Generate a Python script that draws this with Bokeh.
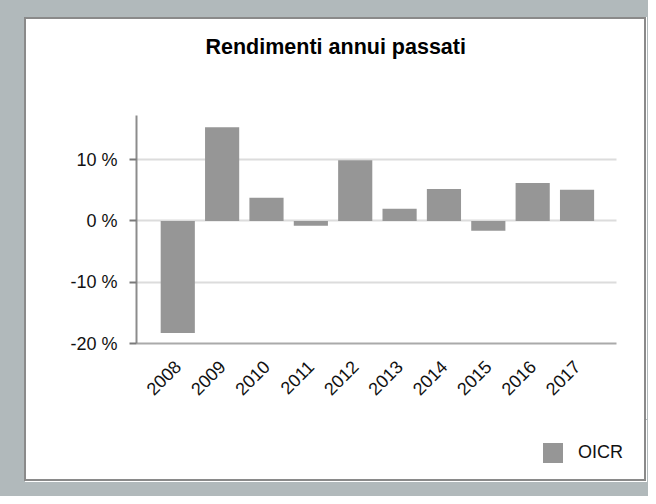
from math import pi
from bokeh.plotting import figure
from bokeh.models import (ColumnDataSource, Range1d, FixedTicker,
                          Legend, LegendItem)
from bokeh.layouts import column
from bokeh.embed import file_html
from bokeh.resources import INLINE

# ---- data ----
title_text = "Rendimenti annui passati"
series_name = "OICR"
years = ["2008", "2009", "2010", "2011", "2012", "2013", "2014", "2015", "2016", "2017"]
returns = [-18.3, 15.3, 3.8, -0.8, 9.9, 2.0, 5.2, -1.6, 6.2, 5.1]
y_ticks = [-20, -10, 0, 10]
y_tick_labels = ["-20 %", "-10 %", "0 %", "10 %"]

FONT = "Liberation Sans"
BAR = "#969696"
EDGE = "2px solid #8a8a8a"
MB_L, MB_R = 110, 16

pos = list(range(len(years)))
src = ColumnDataSource(dict(pos=pos, year=years, value=returns))


def panel_figure(height, edges, shadow, **kw):
    st = {"background-color": "white", "box-shadow": shadow}
    for e in edges:
        st["border-" + e] = EDGE
    f = figure(width=622, height=height, output_backend="svg", toolbar_location=None,
               min_border_left=MB_L, min_border_right=MB_R,
               background_fill_color="white", border_fill_color="white",
               styles=st, **kw)
    f.outline_line_color = None
    return f


# ---- title strip ----
t = panel_figure(52, ["left", "top", "right"], "1px 0 0 #ffffff",
                 x_range=Range1d(0, 1), y_range=Range1d(0, 1),
                 x_axis_type=None, y_axis_type=None,
                 min_border_top=44, min_border_bottom=0)
t.margin = (17, 0, 0, 24)
t.title.text = title_text
t.title.text_font = FONT
t.title.text_font_size = "21.5px"
t.title.text_font_style = "bold"
t.title.text_color = "#000000"
t.title.align = "left"
t.title.offset = 69

# ---- chart ----
p = panel_figure(350, ["left", "right"], "1px 0 0 #ffffff",
                 x_range=Range1d(-0.93, 10.25), y_range=Range1d(-20, 17.2),
                 min_border_top=46, min_border_bottom=76)
p.margin = (0, 0, 0, 24)

xa = p.below[0]
ya = p.left[0]

r = p.vbar(x="pos", top="value", bottom=0, width=0.77, source=src,
           fill_color=BAR, line_color=None)

ya.ticker = FixedTicker(ticks=y_ticks)
ya.major_label_overrides = dict(zip(y_ticks, y_tick_labels))
ya.axis_line_color = "#8c8c8c"
ya.axis_line_width = 2
ya.major_tick_line_color = "#7a7a7a"
ya.major_tick_line_width = 2
ya.major_tick_in = 0
ya.major_tick_out = 7
ya.minor_tick_line_color = None
ya.major_label_standoff = 12
ya.major_label_text_font = FONT
ya.major_label_text_font_size = "18px"
ya.major_label_text_color = "#111111"

xa.ticker = FixedTicker(ticks=pos)
xa.major_label_overrides = dict(zip(pos, years))
xa.bounds = (-0.93, 9.89)
xa.axis_line_color = "#aaaaaa"
xa.axis_line_width = 2
xa.major_tick_line_color = None
xa.minor_tick_line_color = None
xa.major_tick_in = 0
xa.major_tick_out = 0
xa.major_label_orientation = pi / 4
xa.major_label_standoff = 20
xa.major_label_text_font = FONT
xa.major_label_text_font_size = "18px"
xa.major_label_text_color = "#111111"

p.xgrid.grid_line_color = None
yg = p.ygrid[0]
yg.ticker = FixedTicker(ticks=y_ticks)
yg.grid_line_color = "#dcdcdc"
yg.grid_line_width = 2
if "cross_bounds" in yg.properties():
    yg.cross_bounds = (-0.93, 9.89)

# ---- legend strip ----
q = panel_figure(62, ["left", "bottom", "right"], "1px 1px 0 #ffffff",
                 x_range=Range1d(-100, -99), y_range=Range1d(100, 101),
                 x_axis_type=None, y_axis_type=None,
                 min_border_top=0, min_border_bottom=0)
q.margin = (0, 0, 0, 24)
swatch = q.vbar(x="pos", top="value", bottom=0, width=0.77, source=src,
                fill_color=BAR, line_color=None)
legend = Legend(items=[LegendItem(label=series_name, renderers=[swatch])],
                location=(404, 16), orientation="vertical",
                glyph_width=25, glyph_height=25, label_standoff=13,
                padding=0, margin=0, spacing=0,
                border_line_color=None, background_fill_alpha=0,
                label_text_font=FONT, label_text_font_size="18px",
                label_text_color="#111111")
q.add_layout(legend, "center")

layout = column(t, p, q, width=648, height=496, spacing=0,
                styles={"background-color": "#b1b9bb"})

open("out.html", "w").write(file_html(layout, INLINE))
